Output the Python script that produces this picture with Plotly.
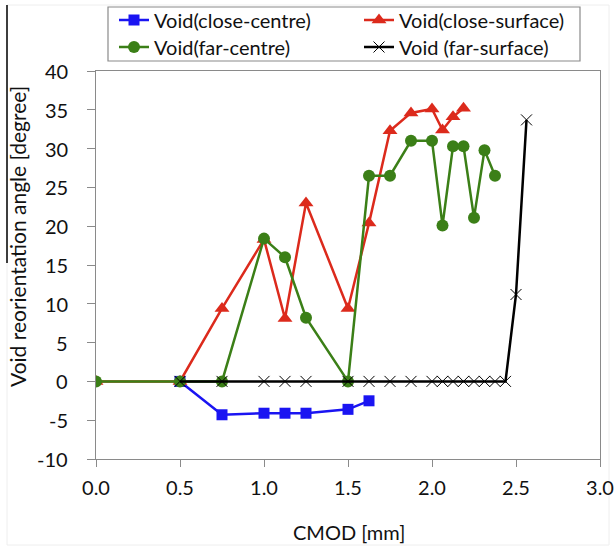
import plotly.graph_objects as go

# CMOD values (mm) and reorientation angles (degrees) for each void
cmod_close_centre = [0.5, 0.75, 1.0, 1.125, 1.25, 1.5, 1.625]
angle_close_centre = [0, -4.3, -4.1, -4.1, -4.1, -3.6, -2.5]

cmod_close_surface = [0, 0.5, 0.75, 1.0, 1.125, 1.25, 1.5, 1.625, 1.75, 1.875,
                      2.0, 2.0625, 2.125, 2.1875]
angle_close_surface = [0, 0, 9.4, 18.3, 8.1, 23.0, 9.4, 20.4, 32.3, 34.6,
                       35.1, 32.4, 34.1, 35.2]

cmod_far_centre = [0, 0.5, 0.75, 1.0, 1.125, 1.25, 1.5, 1.625, 1.75, 1.875,
                   2.0, 2.0625, 2.125, 2.1875, 2.25, 2.3125, 2.375]
angle_far_centre = [0, 0, 0, 18.4, 16.0, 8.2, 0, 26.5, 26.5, 31.0,
                    31.0, 20.1, 30.3, 30.3, 21.1, 29.8, 26.5]

cmod_far_surface = [0.5, 0.75, 1.0, 1.125, 1.25, 1.5, 1.625, 1.75, 1.875,
                    2.0, 2.0625, 2.125, 2.1875, 2.25, 2.3125, 2.375, 2.4375,
                    2.5, 2.5625]
angle_far_surface = [0, 0, 0, 0, 0, 0, 0, 0, 0,
                     0, 0, 0, 0, 0, 0, 0, 0,
                     11.2, 33.7]

names = ["Void(close-centre)", "Void(close-surface)",
         "Void(far-centre)", "Void (far-surface)"]

# axis ticks (hyphen-minus labels as in the original chart)
x_ticks = [0, 0.5, 1.0, 1.5, 2.0, 2.5, 3.0]
x_tick_text = ["0.0", "0.5", "1.0", "1.5", "2.0", "2.5", "3.0"]
y_ticks = [-10, -5, 0, 5, 10, 15, 20, 25, 30, 35, 40]
y_tick_text = ["-10", "-5", "0", "5", "10", "15", "20", "25", "30", "35", "40"]

W, H = 615, 547
L, R, T, B = 96, 600, 71, 459
FONT = "Lato"
TXT = "#111111"


def fx(p):
    return (p - L) / (R - L)


def fy(p):
    return (B - p) / (B - T)


fig = go.Figure()

fig.add_trace(go.Scatter(
    x=cmod_close_centre, y=angle_close_centre, name=names[0],
    mode="lines+markers", legend="legend",
    line=dict(color="#1a14f2", width=2.5),
    marker=dict(symbol="square", size=11, color="#1a14f2"),
))
fig.add_trace(go.Scatter(
    x=cmod_close_surface, y=angle_close_surface, name=names[1],
    mode="lines+markers", legend="legend",
    line=dict(color="#dc2a1c", width=2.5),
    marker=dict(symbol="triangle-up", size=13, color="#dc2a1c"),
))
fig.add_trace(go.Scatter(
    x=cmod_far_centre, y=angle_far_centre, name=names[2],
    mode="lines+markers", legend="legend2",
    line=dict(color="#3b7f17", width=2.5),
    marker=dict(symbol="circle", size=12, color="#3b7f17"),
))
fig.add_trace(go.Scatter(
    x=cmod_far_surface, y=angle_far_surface, name=names[3],
    mode="lines+markers", legend="legend2",
    line=dict(color="#000000", width=2.5),
    marker=dict(symbol="x-thin", size=11, color="#000000",
                line=dict(color="#000000", width=1)),
))

axis_common = dict(
    showgrid=False, zeroline=False, showline=True, mirror=True,
    linecolor="#8a8a8a", linewidth=1.2,
    ticks="outside", tickcolor="#8a8a8a", tickwidth=1.2,
    tickfont=dict(family=FONT, size=20, color=TXT),
)

fig.update_xaxes(range=[0, 3], tickmode="array", tickvals=x_ticks,
                 ticktext=x_tick_text, ticklen=7, ticklabelstandoff=4,
                 **axis_common)
# y tick labels sit well away from the axis, so they are placed as
# annotations on the y scale
fig.update_yaxes(range=[-10, 40], tickmode="array", tickvals=y_ticks,
                 ticklen=8, showticklabels=False, **axis_common)

y_labels = [
    dict(text=t, xref="paper", yref="y", x=fx(70), y=v,
         xanchor="right", yanchor="middle", showarrow=False,
         font=dict(family=FONT, size=20, color=TXT))
    for v, t in zip(y_ticks, y_tick_text)
]

legend_common = dict(
    orientation="h", xanchor="left", yanchor="middle",
    entrywidth=200, entrywidthmode="pixels",
    font=dict(family=FONT, size=20, color=TXT),
    bgcolor="rgba(0,0,0,0)", borderwidth=0,
    traceorder="normal", itemwidth=30,
)

fig.update_layout(
    width=W, height=H,
    margin=dict(l=L, r=W - R, t=T, b=H - B, autoexpand=False),
    paper_bgcolor="white", plot_bgcolor="white",
    showlegend=True,
    legend=dict(x=fx(114), y=fy(20), **legend_common),
    legend2=dict(x=fx(114), y=fy(47), **legend_common),
    shapes=[
        # legend frame
        dict(type="rect", xref="paper", yref="paper",
             x0=fx(108), x1=fx(580), y0=fy(61), y1=fy(7),
             line=dict(color="#8a8a8a", width=1.2), fillcolor="rgba(0,0,0,0)",
             layer="below"),
        # faint outer chart frame
        dict(type="rect", xref="paper", yref="paper",
             x0=fx(7), x1=fx(609), y0=fy(545), y1=fy(5),
             line=dict(color="#eeeeee", width=1), fillcolor="rgba(0,0,0,0)",
             layer="below"),
        # dark left edge line
        dict(type="line", xref="paper", yref="paper",
             x0=fx(7), x1=fx(7), y0=fy(263), y1=fy(5),
             line=dict(color="#000000", width=1.5)),
    ],
    annotations=y_labels + [
        dict(text="CMOD [mm]", xref="paper", yref="paper",
             x=fx(349), y=fy(532), xanchor="center", yanchor="middle",
             showarrow=False, font=dict(family=FONT, size=20, color=TXT)),
        dict(text="Void reorientation angle [degree]", xref="paper", yref="paper",
             x=fx(17), y=fy(237), xanchor="center", yanchor="middle",
             textangle=-90, showarrow=False,
             font=dict(family=FONT, size=21, color=TXT)),
    ],
)

fig.write_html("out.html")
